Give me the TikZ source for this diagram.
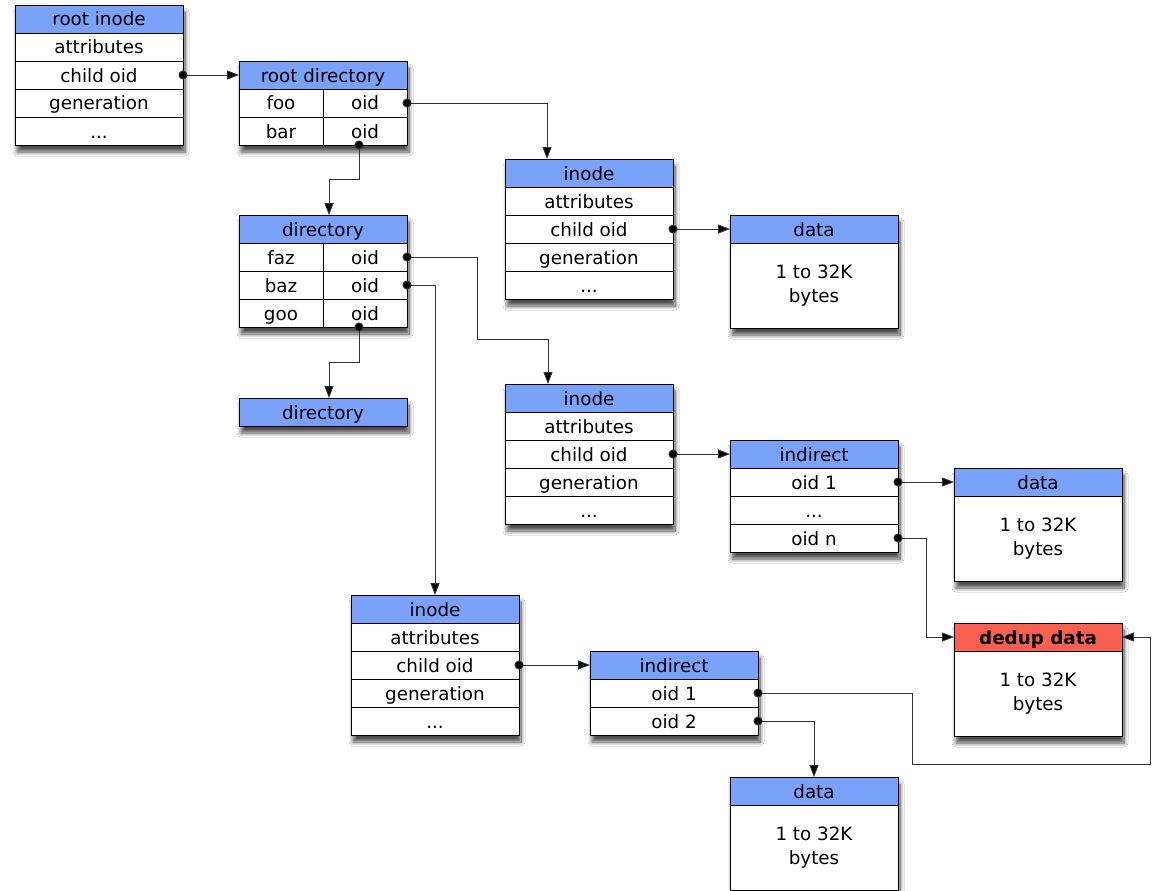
\documentclass[tikz,border=0pt]{standalone}
\usepackage{fontspec}
\setmainfont{DejaVu Sans}
\usetikzlibrary{positioning,arrows.meta,fit,backgrounds,shadows.blur}
\definecolor{hblue}{RGB}{122,162,250}
\definecolor{dred}{RGB}{250,96,80}
\begin{document}
\begin{tikzpicture}[x=1pt,y=-1pt,
 cell/.style={draw=black, line width=0.9pt, fill=white, minimum width=168pt, minimum height=28pt, inner sep=0pt, outer sep=0pt, font=\fontsize{18.3}{24}\selectfont, text=black, text height=16pt, text depth=2pt},
 hdr/.style={cell, fill=hblue},
 half/.style={cell, minimum width=84pt},
 body/.style={cell, minimum height=85pt, align=center, text height=, text depth=},
 shade/.style={inner sep=0pt, outer sep=0pt, fill=white, blur shadow={shadow xshift=2pt, shadow yshift=-7pt, shadow blur steps=12, shadow opacity=70, shadow blur radius=4pt}},
 conn/.style={draw=black!80, line width=0.9pt, {Circle[length=9pt,fill=black]}-{Triangle[length=12pt,width=9pt,fill=black]}, shorten <=-4.5pt},
]
\useasboundingbox (0,0) rectangle (1154,891);
% root inode
\node[hdr] (rih) at (99,19) {root inode};
\node[cell,below=0pt of rih] (ria) {attributes};
\node[cell,below=0pt of ria] (ric) {child oid};
\node[cell,below=0pt of ric] (rig) {generation};
\node[cell,below=0pt of rig] (rie) {...};
% root directory
\node[hdr] (rdh) at (323,75) {root directory};
\node[half,anchor=north west] (rdf) at (rdh.south west) {foo};
\node[half,anchor=north east] (rdfo) at (rdh.south east) {oid};
\node[half,anchor=north west] (rdb) at (rdf.south west) {bar};
\node[half,anchor=north east] (rdbo) at (rdfo.south east) {oid};
% inode 1
\node[hdr] (in1h) at (589,173) {inode};
\node[cell,below=0pt of in1h] (in1a) {attributes};
\node[cell,below=0pt of in1a] (in1c) {child oid};
\node[cell,below=0pt of in1c] (in1g) {generation};
\node[cell,below=0pt of in1g] (in1e) {...};
% data 1
\node[hdr] (d1h) at (814,229) {data};
\node[body,below=0pt of d1h] (d1b) {1 to 32K\\bytes};
% directory
\node[hdr] (dirh) at (323,229) {directory};
\node[half,anchor=north west] (dirf) at (dirh.south west) {faz};
\node[half,anchor=north east] (dirfo) at (dirh.south east) {oid};
\node[half,anchor=north west] (dirb) at (dirf.south west) {baz};
\node[half,anchor=north east] (dirbo) at (dirfo.south east) {oid};
\node[half,anchor=north west] (dirg) at (dirb.south west) {goo};
\node[half,anchor=north east] (dirgo) at (dirbo.south east) {oid};
% directory 2
\node[hdr] (dir2) at (323,412) {directory};
% inode 2
\node[hdr] (in2h) at (589,398) {inode};
\node[cell,below=0pt of in2h] (in2a) {attributes};
\node[cell,below=0pt of in2a] (in2c) {child oid};
\node[cell,below=0pt of in2c] (in2g) {generation};
\node[cell,below=0pt of in2g] (in2e) {...};
% indirect 1
\node[hdr] (i1h) at (814,454) {indirect};
\node[cell,below=0pt of i1h] (i1a) {oid 1};
\node[cell,below=0pt of i1a] (i1e) {...};
\node[cell,below=0pt of i1e] (i1n) {oid n};
% data 2
\node[hdr] (d2h) at (1038,482) {data};
\node[body,below=0pt of d2h] (d2b) {1 to 32K\\bytes};
% dedup data
\node[hdr,fill=dred,font=\fontsize{18.3}{24}\selectfont\bfseries] (dedh) at (1038,637) {dedup data};
\node[body,below=0pt of dedh] (dedb) {1 to 32K\\bytes};
% inode 3
\node[hdr] (in3h) at (435,609) {inode};
\node[cell,below=0pt of in3h] (in3a) {attributes};
\node[cell,below=0pt of in3a] (in3c) {child oid};
\node[cell,below=0pt of in3c] (in3g) {generation};
\node[cell,below=0pt of in3g] (in3e) {...};
% indirect 2
\node[hdr] (i2h) at (674,665) {indirect};
\node[cell,below=0pt of i2h] (i2a) {oid 1};
\node[cell,below=0pt of i2a] (i2b) {oid 2};
% data 3
\node[hdr] (d3h) at (814,791) {data};
\node[body,below=0pt of d3h] (d3b) {1 to 32K\\bytes};
% connectors
\draw[conn] (ric.east) -- (rdh.west);
\draw[conn] (rdfo.east) -| ([xshift=-42pt]in1h.north);
\draw[conn] ([xshift=-6pt]rdbo.south) -- ++(0,34) -| ([xshift=6pt]dirh.north);
\draw[conn] ([xshift=-6pt]dirgo.south) -- ++(0,35) -| ([xshift=6pt]dir2.north);
\draw[conn] (dirfo.east) -- ++(70,0) -- ++(0,82) -| ([xshift=-41pt]in2h.north);
\draw[conn] (dirbo.east) -| (in3h.north);
\draw[conn] (in1c.east) -- (d1h.west);
\draw[conn] (in2c.east) -- (i1h.west);
\draw[conn] (i1a.east) -- (d2h.west);
\draw[conn] (i1n.east) -- ++(28,0) |- (dedh.west);
\draw[conn] (in3c.east) -- (i2h.west);
\draw[conn] (i2a.east) -- ++(154,0) -- ++(0,71) -- ++(238,0) |- (dedh.east);
\draw[conn] (i2b.east) -| (d3h.north);
% background and shadows
\begin{pgfonlayer}{background}
\fill[white] (0,0) rectangle (1154,891);
\node[shade,fit=(rih)(rie)] {};
\node[shade,fit=(rdh)(rdbo)] {};
\node[shade,fit=(in1h)(in1e)] {};
\node[shade,fit=(d1h)(d1b)] {};
\node[shade,fit=(dirh)(dirgo)] {};
\node[shade,fit=(dir2)] {};
\node[shade,fit=(in2h)(in2e)] {};
\node[shade,fit=(i1h)(i1n)] {};
\node[shade,fit=(d2h)(d2b)] {};
\node[shade,fit=(dedh)(dedb)] {};
\node[shade,fit=(in3h)(in3e)] {};
\node[shade,fit=(i2h)(i2b)] {};
\node[shade,fit=(d3h)(d3b)] {};
\end{pgfonlayer}
\end{tikzpicture}
\end{document}
